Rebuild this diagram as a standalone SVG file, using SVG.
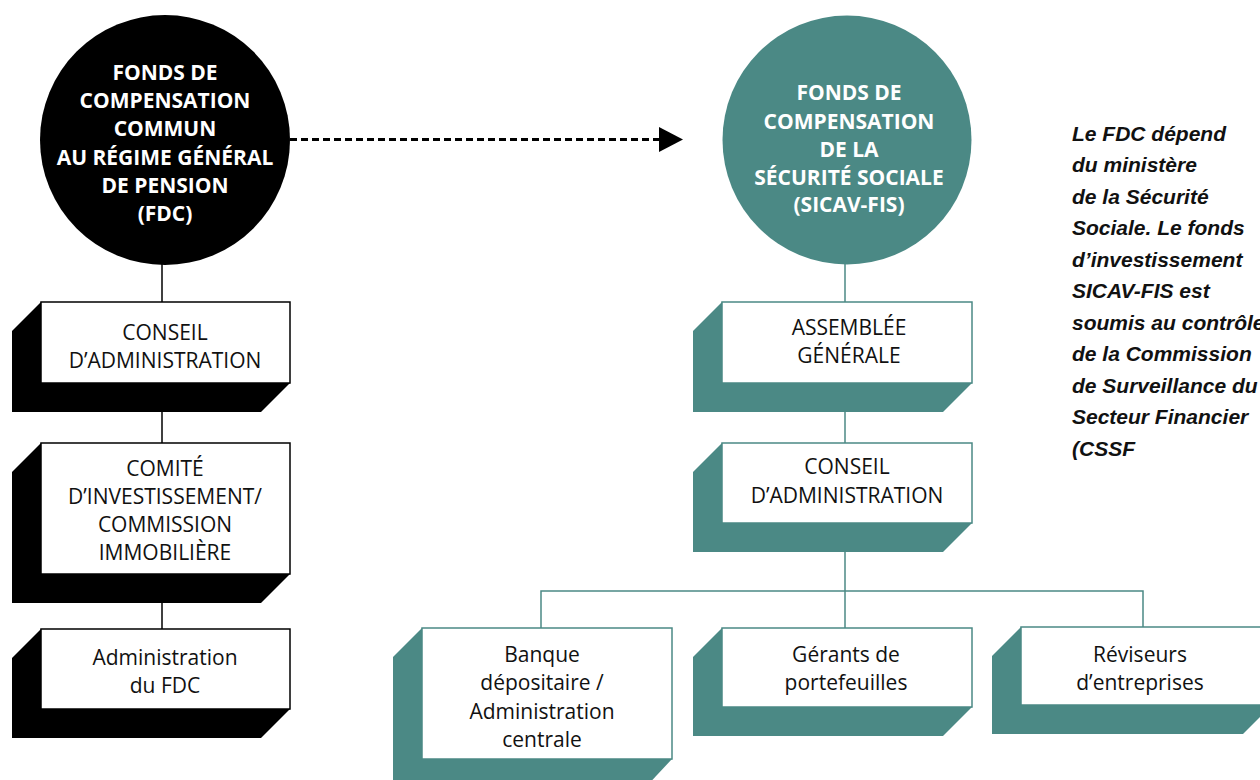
<svg xmlns="http://www.w3.org/2000/svg" width="1260" height="780" viewBox="0 0 1260 780">
<defs>
<style>
.bx{font-family:"Open Sans","Noto Sans","DejaVu Sans",sans-serif;font-size:21px;fill:#111;text-anchor:middle}
.ct{font-family:"Open Sans","Noto Sans","DejaVu Sans",sans-serif;font-size:21px;font-weight:700;fill:#fff;text-anchor:middle}
.side{font-family:"Liberation Sans",Arial,sans-serif;font-size:21px;font-weight:700;font-style:italic;fill:#111}
.shk{fill:#000}
.sht{fill:#4b8985}
.fk{fill:#fff;stroke:#000;stroke-width:1.5}
.ft{fill:#fff;stroke:#4b8985;stroke-width:1.5}
.lk{stroke:#000;stroke-width:1.5;fill:none}
.lt{stroke:#4b8985;stroke-width:1.5;fill:none}
</style>
</defs>
<rect width="1260" height="780" fill="#fff"/>

<g id="connectors">
<line class="lk" x1="162" y1="262" x2="162" y2="302"/>
<line class="lk" x1="162" y1="412" x2="162" y2="443"/>
<line class="lk" x1="162" y1="603" x2="162" y2="629"/>
<line class="lt" x1="845" y1="262" x2="845" y2="302"/>
<line class="lt" x1="845" y1="412" x2="845" y2="443"/>
<line class="lt" x1="845" y1="552" x2="845" y2="628"/>
<polyline class="lt" points="541,628 541,591 1143,591 1143,628"/>
<line x1="290" y1="139.5" x2="660" y2="139.5" stroke="#000" stroke-width="3" stroke-dasharray="7 4"/>
<polygon points="659,127 683,139.5 659,152" fill="#000"/>
</g>

<g id="fdc">
<circle cx="165" cy="140" r="125" fill="#000"/>
<text class="ct" x="165" y="79.5">FONDS DE</text>
<text class="ct" x="165" y="107.5">COMPENSATION</text>
<text class="ct" x="165" y="136">COMMUN</text>
<text class="ct" x="165" y="164.5">AU RÉGIME GÉNÉRAL</text>
<text class="ct" x="165" y="192.5">DE PENSION</text>
<text class="ct" x="165" y="221">(FDC)</text>
</g>

<g id="sicav">
<circle cx="847" cy="140" r="124.5" fill="#4b8985"/>
<text class="ct" x="849" y="100">FONDS DE</text>
<text class="ct" x="849" y="128.5">COMPENSATION</text>
<text class="ct" x="849" y="156.5">DE LA</text>
<text class="ct" x="849" y="184.5">SÉCURITÉ SOCIALE</text>
<text class="ct" x="849" y="212">(SICAV-FIS)</text>
</g>

<g id="l-conseil">
<polygon class="shk" points="41,302 12,331 12,412 261,412 290,383 290,302"/>
<rect class="fk" x="41" y="302" width="249" height="81"/>
<text class="bx" x="165" y="340">CONSEIL</text>
<text class="bx" x="165" y="368">D’ADMINISTRATION</text>
</g>

<g id="l-comite">
<polygon class="shk" points="41,443 12,472 12,603 261,603 290,574 290,443"/>
<rect class="fk" x="41" y="443" width="249" height="131"/>
<text class="bx" x="165" y="476">COMITÉ</text>
<text class="bx" x="165" y="503.5">D’INVESTISSEMENT/</text>
<text class="bx" x="165" y="531.5">COMMISSION</text>
<text class="bx" x="165" y="560">IMMOBILIÈRE</text>
</g>

<g id="l-admin">
<polygon class="shk" points="41,629 12,658 12,738 261,738 290,709 290,629"/>
<rect class="fk" x="41" y="629" width="249" height="80"/>
<text class="bx" x="165" y="665">Administration</text>
<text class="bx" x="165" y="693">du FDC</text>
</g>

<g id="r-assemblee">
<polygon class="sht" points="722,302 693,331 693,412 943,412 972,383 972,302"/>
<rect class="ft" x="722" y="302" width="250" height="81"/>
<text class="bx" x="849" y="335">ASSEMBLÉE</text>
<text class="bx" x="849" y="363">GÉNÉRALE</text>
</g>

<g id="r-conseil">
<polygon class="sht" points="722,443 693,472 693,552 943,552 972,523 972,443"/>
<rect class="ft" x="722" y="443" width="250" height="80"/>
<text class="bx" x="847" y="474">CONSEIL</text>
<text class="bx" x="847" y="503">D’ADMINISTRATION</text>
</g>

<g id="banque">
<polygon class="sht" points="422,628 393,657 393,790 643,790 672,759 672,628"/>
<rect class="ft" x="422" y="628" width="250" height="131"/>
<text class="bx" x="542" y="662">Banque</text>
<text class="bx" x="542" y="690">dépositaire /</text>
<text class="bx" x="542" y="718.5">Administration</text>
<text class="bx" x="542" y="747">centrale</text>
</g>

<g id="gerants">
<polygon class="sht" points="722,628 693,657 693,736 943,736 972,707 972,628"/>
<rect class="ft" x="722" y="628" width="250" height="79"/>
<text class="bx" x="846" y="662">Gérants de</text>
<text class="bx" x="846" y="690">portefeuilles</text>
</g>

<g id="reviseurs">
<polygon class="sht" points="1021,627 992,656 992,734 1243,734 1272,705 1272,627"/>
<rect class="ft" x="1021" y="627" width="251" height="78"/>
<text class="bx" x="1140" y="662">Réviseurs</text>
<text class="bx" x="1140" y="690">d’entreprises</text>
</g>

<g id="note">
<text class="side" x="1072" y="140.5">Le FDC dépend</text>
<text class="side" x="1072" y="172">du ministère</text>
<text class="side" x="1072" y="203.5">de la Sécurité</text>
<text class="side" x="1072" y="235">Sociale. Le fonds</text>
<text class="side" x="1072" y="266.5">d’investissement</text>
<text class="side" x="1072" y="298">SICAV-FIS est</text>
<text class="side" x="1072" y="329.5">soumis au contrôle</text>
<text class="side" x="1072" y="361">de la Commission</text>
<text class="side" x="1072" y="392.5">de Surveillance du</text>
<text class="side" x="1072" y="424">Secteur Financier</text>
<text class="side" x="1072" y="455.5">(CSSF</text>
</g>
</svg>
